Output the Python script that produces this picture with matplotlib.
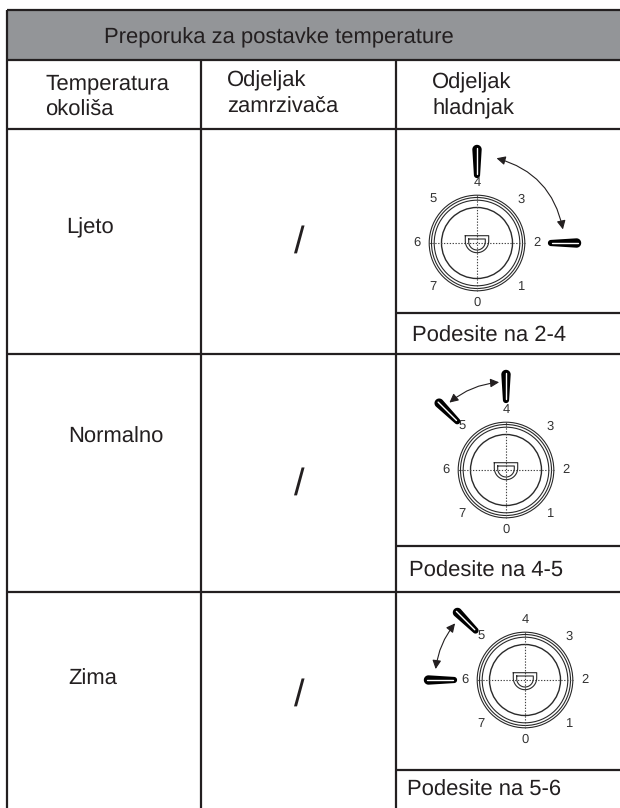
import matplotlib
matplotlib.use('Agg')
import matplotlib.pyplot as plt
import numpy as np
from matplotlib.patches import Circle, Rectangle, FancyArrowPatch

plt.rcParams['font.family'] = ['Liberation Sans', 'DejaVu Sans']
plt.rcParams['text.hinting'] = 'none'
plt.rcParams['text.hinting_factor'] = 1

title = 'Preporuka za postavke temperature'
col_heads = [['Temperatura', 'okoliša'], ['Odjeljak', 'zamrzivača'], ['Odjeljak', 'hladnjak']]
seasons = ['Ljeto', 'Normalno', 'Zima']
freezer = ['/', '/', '/']
settings = ['Podesite na 2-4', 'Podesite na 4-5', 'Podesite na 5-6']
dial_marks = [0, 1, 2, 3, 4, 5, 6, 7]
knob_marks = [(2, 4), (4, 5), (5, 6)]

INK = '#231f20'
GREY = '#939598'
FS = 15.65

fig = plt.figure(figsize=(6.2, 8.08), dpi=100)
ax = fig.add_axes([0, 0, 1, 1])
ax.set_xlim(0, 620)
ax.set_ylim(808, 0)
ax.axis('off')

# table grid, in pixels of the page
LEFT, RIGHT, BOTTOM = 7, 620, 808
COL1, COL2 = 201, 396
TOP, HEAD, SUB = 10, 60, 129
ROW_ENDS = [353.5, 592]
SPLITS = [313, 546, 770]


def line(x0, y0, x1, y1):
    ax.plot([x0, x1], [y0, y1], color=INK, lw=1.6, solid_capstyle='butt', zorder=2)


def polar(cx, cy, r, angle):
    a = np.radians(angle)
    return cx + r * np.cos(a), cy - r * np.sin(a)


def knob(cx, cy, mark, r0):
    # handle lying outside the dial, thick round end away from centre
    angle = 270 + 45 * mark
    a = np.radians(angle)
    ux, uy = np.cos(a), -np.sin(a)
    px, py = -uy, ux
    x0, y0 = polar(cx, cy, r0, angle)
    x1, y1 = polar(cx, cy, r0 + 25.5, angle)
    th = np.linspace(0, np.pi, 16)
    R0, R1 = 3.1, 4.7
    xs = [x0 - px * R0]
    ys = [y0 - py * R0]
    for t in th:
        xs.append(x1 + R1 * (-px * np.cos(t) + ux * np.sin(t)))
        ys.append(y1 + R1 * (-py * np.cos(t) + uy * np.sin(t)))
    for t in th:
        xs.append(x0 + R0 * (px * np.cos(t) - ux * np.sin(t)))
        ys.append(y0 + R0 * (py * np.cos(t) - uy * np.sin(t)))
    ax.fill(xs, ys, color='black', lw=0, zorder=3)
    ax.plot([x0 + ux * 1, x1 + ux * 1.5], [y0 + uy * 1, y1 + uy * 1.5], color='white', lw=1.0,
            zorder=4, solid_capstyle='round')


def dial(cx, cy):
    for r, lw in [(47.8, 0.8), (45.5, 0.8), (42.8, 0.8), (35.5, 1.0)]:
        ax.add_patch(Circle((cx, cy), r, fill=False, ec='#2a2a2a', lw=lw, zorder=2))
    ax.plot([cx - 48, cx + 48], [cy, cy], color='#444444', lw=0.8, ls=(0, (1.2, 1.4)), zorder=2)
    ax.plot([cx, cx], [cy - 48, cy + 48], color='#444444', lw=0.8, ls=(0, (1.2, 1.4)), zorder=2)
    # small D shaped catch in the middle
    for w, top, bot in [(11.7, -7.3, 9.7), (8.3, -4, 7)]:
        th = np.linspace(0, np.pi, 30)
        xs = np.r_[cx - w, cx + w * np.cos(th[::-1]), cx + w, cx - w]
        ys = np.r_[cy + top, cy + bot - w + w * np.sin(th), cy + top, cy + top]
        ax.plot(xs, ys, color='#2a2a2a', lw=0.8, zorder=2)
    for m in dial_marks:
        ang = 270 + 45 * m
        r = 62 if m % 2 == 1 else 60
        x, y = polar(cx, cy, r, ang)
        ax.text(x, y, str(m), fontsize=9.3, ha='center', va='center', color='#333333', zorder=5)


ax.add_patch(Rectangle((LEFT, TOP), RIGHT - LEFT, HEAD - TOP, fc=GREY, ec='none', zorder=1))
for y in [TOP, HEAD, SUB] + ROW_ENDS:
    line(LEFT, y, RIGHT, y)
line(LEFT, TOP, LEFT, BOTTOM)
for x in [COL1, COL2]:
    line(x, HEAD, x, BOTTOM)
for y in SPLITS:
    line(COL2, y, RIGHT, y)

ax.text(278.5, 43, title, fontsize=FS, ha='center', va='baseline', color=INK)
head_x = [45, 227, 432]
head_base = [(89, 115), (86, 111.5), (88, 114)]
for x, base, lines in zip(head_x, head_base, col_heads):
    for y, s in zip(base, lines):
        ax.text(x, y, s, fontsize=FS, ha='left', va='baseline', color=INK)

season_x = [66.5, 68, 68]
season_base = [233, 443, 685]
slash_y = [243, 485, 696]
slash_x = [299.5, 299.5, 299]
split_x = [412, 409, 407]
split_base = [342, 577, 796]
dial_c = [(477, 243), (506, 470), (525, 680)]
knob_r0 = [(74, 68), (70, 69), (70, 71)]
arc_from = [77, 130, 173]
arc_to = [9, 94.5, 141]
arc_r = [87, 88, 90]

for i in range(3):
    ax.text(season_x[i], season_base[i], seasons[i], fontsize=FS, ha='left', va='baseline', color=INK)
    ax.text(slash_x[i], slash_y[i], freezer[i], fontsize=27, ha='center', va='center', color=INK)
    ax.text(split_x[i], split_base[i], settings[i], fontsize=FS, ha='left', va='baseline', color=INK)
    cx, cy = dial_c[i]
    dial(cx, cy)
    rad = -np.tan(np.radians(arc_from[i] - arc_to[i]) / 4)
    ax.add_patch(FancyArrowPatch(polar(cx, cy, arc_r[i], arc_from[i]), polar(cx, cy, arc_r[i], arc_to[i]),
                                 connectionstyle=f'arc3,rad={rad}', arrowstyle='<|-|>',
                                 mutation_scale=13, lw=0.8, color=INK, shrinkA=0, shrinkB=0, zorder=4))
    for m, r0 in zip(knob_marks[i], knob_r0[i]):
        knob(cx, cy, m, r0)

fig.savefig('out.png', dpi=100)
